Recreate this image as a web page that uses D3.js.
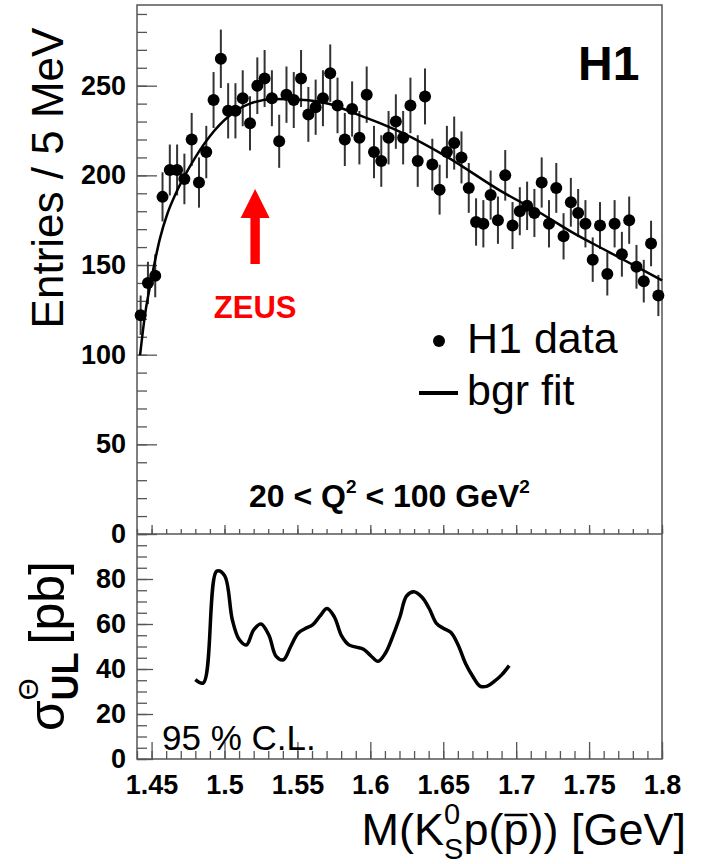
<!DOCTYPE html>
<html>
<head>
<meta charset="utf-8">
<script src="https://cdn.jsdelivr.net/npm/d3@7"></script>
<style>
  body { margin: 0; background: #fff; }
  text { font-family: "Liberation Sans", Arial, sans-serif; }
</style>
</head>
<body>
<svg id="chart" width="701" height="864"></svg>
<script>
// histogram: 5 MeV bins starting at 1.44 GeV
const massStart = 1.44;
const binWidth = 0.005;
const counts = [122,140,144,188,203,203,198,220,196,213,
                242,265,236,236,243,229,250,254,243,219,
                245,242,254,234,238,243,257,239,220,237,
                221,245,213,208,221,230,221,239,208,244,
                206,192,213,218,210,193,174,173,189,175,
                200,172,180,183,179,196,173,193,166,185,
                179,173,153,172,145,173,156,175,149,141,
                162,133];
const errors = [11.0,11.8,12.0,13.7,14.2,14.2,14.1,14.8,14.0,14.6,
                15.6,16.3,15.4,15.4,15.6,15.1,15.8,15.9,15.6,14.8,
                15.7,15.6,15.9,15.3,15.4,15.6,16.0,15.5,14.8,15.4,
                14.9,15.7,14.6,14.4,14.9,15.2,14.9,15.5,14.4,15.6,
                14.4,13.9,14.6,14.8,14.5,13.9,13.2,13.2,13.7,13.2,
                14.1,13.1,13.4,13.5,13.4,14.0,13.2,13.9,12.9,13.6,
                13.4,13.2,12.4,13.1,12.0,13.2,12.5,13.2,12.2,11.9,
                12.7,11.5];

// background fit
const fitMass  = [1.4421,1.444,1.446,1.4489,1.452,1.4558,1.461,1.4661,1.4763,1.4901,1.5038,1.5175,
                  1.5346,1.552,1.572,1.591,1.607,1.623,1.652,1.689,1.716,1.74,1.763,1.785,1.8];
const fitValue = [99.8,113,125,138,151,165,179,189,205,222,233.5,240,
                  242.6,242.2,239.8,234,229,223.3,210.6,191.5,179.3,167.5,157.5,148,141.4];

// 95% CL upper limit on cross section
const ulMass  = [1.48,1.4855,1.4947,1.5,1.5054,1.51,1.515,1.52,1.525,1.5304,1.5354,1.5404,1.5454,
                 1.5504,1.5554,1.5604,1.5654,1.5703,1.5753,1.5803,1.5853,1.5903,1.5953,1.6003,
                 1.6053,1.6103,1.6153,1.6203,1.6248,1.6298,1.6353,1.6403,1.6453,1.6503,1.6553,
                 1.6602,1.6652,1.6702,1.6752,1.6802,1.6852,1.6902,1.6952];
const ulValue = [35.3,33.8,83.5,81.6,61.8,53.2,50.7,57.4,60,55.1,45.6,44.1,50,
                 55.9,58,59.6,63.5,66.9,63.2,54.7,50.7,49.7,48.8,45.9,
                 43.4,47,54.4,63.2,72.4,74.3,72,67,60.3,58,56.2,
                 50.7,42.6,36.8,32.4,32.4,34.6,37.5,41.5];

const xTicks = [1.45,1.5,1.55,1.6,1.65,1.7,1.75,1.8];
const xTickLabels = ["1.45","1.5","1.55","1.6","1.65","1.7","1.75","1.8"];
const topTicks = [0,50,100,150,200,250];
const botTicks = [0,20,40,60,80];

// ZEUS peak marker
const zeusMass = 1.521;
const arrowTip = 192.4, arrowHead = 176.2, arrowEnd = 150.6;

const svg = d3.select("#chart");
const L = 137, R = 662, T = 5, M = 534, B = 759;

const x = d3.scaleLinear().domain([1.44, 1.8]).range([L, R]);
const yTop = d3.scaleLinear().domain([0, 295]).range([M, T]);
const yBot = d3.scaleLinear().domain([0, 100]).range([B, M]);

const frameColor = "#555";

// axes (ROOT style, ticks inside)
function drawAxis(axis, tx, ty) {
  const g = svg.append("g").attr("transform", `translate(${tx},${ty})`).call(axis);
  g.select(".domain").remove();
  g.selectAll(".tick line").attr("stroke", frameColor).attr("stroke-width", 1.3);
  g.selectAll("text").attr("font-size", 27).attr("font-weight", "bold")
    .attr("fill", "#000").attr("font-family", "Liberation Sans, Arial, sans-serif");
  return g;
}

const xMinor = d3.range(0, 37).map(i => massStart + i * 0.01);

// top panel
drawAxis(d3.axisLeft(yTop).tickValues(d3.range(0, 291, 10)).tickSize(-10).tickFormat(""), L, 0);
drawAxis(d3.axisLeft(yTop).tickValues(topTicks).tickSize(-20).tickPadding(11), L, 0);
drawAxis(d3.axisBottom(x).tickValues(xMinor).tickSize(-5).tickFormat(""), 0, M);
drawAxis(d3.axisBottom(x).tickValues(xTicks).tickSize(-9).tickFormat(""), 0, M);

// bottom panel
drawAxis(d3.axisLeft(yBot).tickValues(d3.range(0, 101, 5)).tickSize(-10).tickFormat(""), L, 0);
drawAxis(d3.axisLeft(yBot).tickValues(botTicks).tickSize(-16).tickPadding(11), L, 0);
drawAxis(d3.axisBottom(x).tickValues(xMinor).tickSize(-8).tickFormat(""), 0, B);
drawAxis(d3.axisBottom(x).tickValues(xTicks).tickSize(-17).tickPadding(16)
  .tickFormat((d, i) => xTickLabels[i]), 0, B);

// frames
svg.append("rect").attr("x", L).attr("y", T).attr("width", R - L).attr("height", B - T)
  .attr("fill", "none").attr("stroke", frameColor).attr("stroke-width", 1.5);
svg.append("line").attr("x1", L).attr("x2", R).attr("y1", M).attr("y2", M)
  .attr("stroke", frameColor).attr("stroke-width", 1.5);

// data points with errors
const data = counts.map((c, i) => ({ m: massStart + binWidth * (i + 0.5), c: c, e: errors[i] }));

svg.append("g").selectAll("line").data(data).enter().append("line")
  .attr("x1", d => x(d.m)).attr("x2", d => x(d.m))
  .attr("y1", d => yTop(d.c - d.e)).attr("y2", d => yTop(d.c + d.e))
  .attr("stroke", "#333").attr("stroke-width", 2);

const fitLine = d3.line().x(d => x(d[0])).y(d => yTop(d[1])).curve(d3.curveMonotoneX);
svg.append("path").datum(d3.zip(fitMass, fitValue)).attr("d", fitLine)
  .attr("fill", "none").attr("stroke", "#000").attr("stroke-width", 2.5);

svg.append("g").selectAll("circle").data(data).enter().append("circle")
  .attr("cx", d => x(d.m)).attr("cy", d => yTop(d.c)).attr("r", 6).attr("fill", "#000");

// UL curve
const ulLine = d3.line().x(d => x(d[0])).y(d => yBot(d[1])).curve(d3.curveCatmullRom);
svg.append("path").datum(d3.zip(ulMass, ulValue)).attr("d", ulLine)
  .attr("fill", "none").attr("stroke", "#000").attr("stroke-width", 3.5)
  .attr("stroke-linejoin", "round");

// ZEUS arrow
const ax = x(zeusMass);
const arrow = d3.path();
arrow.moveTo(ax, yTop(arrowTip));
arrow.lineTo(ax + 14.5, yTop(arrowHead));
arrow.lineTo(ax + 4.7, yTop(arrowHead));
arrow.lineTo(ax + 4.7, yTop(arrowEnd));
arrow.lineTo(ax - 4.7, yTop(arrowEnd));
arrow.lineTo(ax - 4.7, yTop(arrowHead));
arrow.lineTo(ax - 14.5, yTop(arrowHead));
arrow.closePath();
svg.append("path").attr("d", arrow.toString()).attr("fill", "#ff0000");
svg.append("text").attr("x", ax).attr("y", yTop(arrowEnd) + 54).attr("text-anchor", "middle")
  .attr("font-size", 31).attr("font-weight", "bold").attr("fill", "#ff0000").text("ZEUS");

// labels
svg.append("text").attr("x", 578).attr("y", 80).attr("font-size", 48).attr("font-weight", "bold").text("H1");

svg.append("circle").attr("cx", 439).attr("cy", 341).attr("r", 6).attr("fill", "#000");
svg.append("text").attr("x", 467).attr("y", 353).attr("font-size", 43).text("H1 data");
svg.append("line").attr("x1", 419).attr("x2", 458).attr("y1", 393).attr("y2", 393)
  .attr("stroke", "#000").attr("stroke-width", 4);
svg.append("text").attr("x", 467).attr("y", 405).attr("font-size", 43).text("bgr fit");

const q = svg.append("text").attr("x", 249).attr("y", 507).attr("font-size", 32).attr("font-weight", "bold");
q.append("tspan").text("20 < Q");
q.append("tspan").attr("font-size", 19).attr("dy", -14).text("2");
q.append("tspan").attr("dy", 14).text(" < 100 GeV");
q.append("tspan").attr("font-size", 19).attr("dy", -14).text("2");

svg.append("text").attr("x", 162).attr("y", 750).attr("font-size", 35).text("95 % C.L.");

// y titles
svg.append("text").attr("transform", "translate(63,178) rotate(-90)").attr("text-anchor", "middle")
  .attr("font-size", 44).text("Entries / 5 MeV");

const s = svg.append("text").attr("transform", "translate(64,646) rotate(-90)").attr("text-anchor", "middle")
  .attr("font-size", 50);
s.append("tspan").text("σ");
s.append("tspan").attr("font-size", 28).attr("dy", -26).text("Θ");
s.append("tspan").attr("font-size", 36).attr("font-weight", "bold").attr("dx", -22).attr("dy", 40).text("UL");
s.append("tspan").attr("dy", -14).attr("dx", 8).text("[pb]");

// x title
const t = svg.append("text").attr("x", 686).attr("y", 845).attr("text-anchor", "end").attr("font-size", 45);
t.append("tspan").text("M(K");
t.append("tspan").attr("font-size", 29).attr("dy", -21).text("0");
t.append("tspan").attr("font-size", 29).attr("dx", -16).attr("dy", 35).text("S");
t.append("tspan").attr("dy", -14).text("p(");
const pBar = t.append("tspan").text("p");
t.append("tspan").text(")) [GeV]");

// overline on antiproton p
const ext = pBar.node().getExtentOfChar(0);
svg.append("line").attr("x1", ext.x + 1).attr("x2", ext.x + ext.width - 1)
  .attr("y1", 845 - 30).attr("y2", 845 - 30).attr("stroke", "#000").attr("stroke-width", 2.5);
</script>
</body>
</html>
